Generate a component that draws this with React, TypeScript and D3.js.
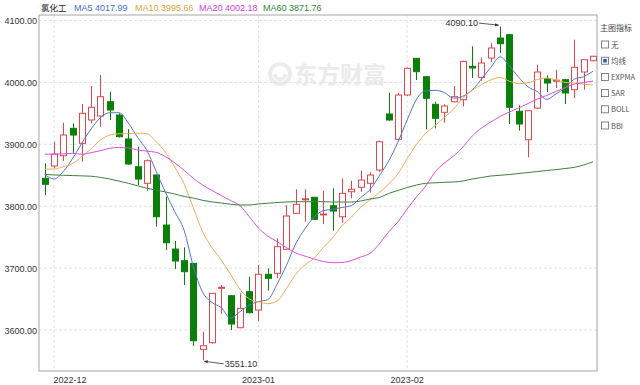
import React from 'react';
import * as d3 from 'd3';

// Trading days, 2022-11-30 .. 2023-03-01
const dates = [
  '2022-11-30',
  '2022-12-01', '2022-12-02', '2022-12-05', '2022-12-06', '2022-12-07', '2022-12-08', '2022-12-09',
  '2022-12-12', '2022-12-13', '2022-12-14', '2022-12-15', '2022-12-16', '2022-12-19', '2022-12-20',
  '2022-12-21', '2022-12-22', '2022-12-23', '2022-12-26', '2022-12-27', '2022-12-28', '2022-12-29',
  '2022-12-30',
  '2023-01-03', '2023-01-04', '2023-01-05', '2023-01-06', '2023-01-09', '2023-01-10', '2023-01-11',
  '2023-01-12', '2023-01-13', '2023-01-16', '2023-01-17', '2023-01-18', '2023-01-19', '2023-01-20',
  '2023-01-30', '2023-01-31',
  '2023-02-01', '2023-02-02', '2023-02-03', '2023-02-06', '2023-02-07', '2023-02-08', '2023-02-09',
  '2023-02-10', '2023-02-13', '2023-02-14', '2023-02-15', '2023-02-16', '2023-02-17', '2023-02-20',
  '2023-02-21', '2023-02-22', '2023-02-23', '2023-02-24', '2023-02-27', '2023-02-28',
  '2023-03-01',
];

const opens = [
  3845.1, 3865.0, 3881.6, 3925.8, 3901.6, 3939.3, 3945.7, 3968.8, 3947.3, 3908.6,
  3863.8, 3837.0, 3850.4, 3769.6, 3730.8, 3712.0, 3707.7, 3568.8, 3579.5, 3668.3,
  3655.4, 3603.7, 3661.9, 3632.3, 3690.0, 3691.6, 3730.4, 3788.5, 3811.1, 3814.4,
  3786.5, 3800.8, 3783.0, 3823.4, 3830.5, 3837.0, 3858.5, 3949.0, 3908.1, 3979.6,
  4038.9, 4009.2, 3964.6, 3951.7, 3968.8, 3972.0, 4026.0, 4008.2, 4039.4, 4071.7,
  4077.1, 3953.3, 3907.4, 3958.6, 4006.0, 4002.7, 4004.4, 3988.2, 4016.8, 4035.1,
];
const highs = [
  3869.3, 3904.2, 3934.9, 3933.9, 3965.1, 3994.2, 4012.0, 3985.0, 3950.0, 3924.7,
  3896.1, 3875.8, 3851.0, 3815.3, 3743.8, 3733.6, 3708.0, 3597.3, 3660.0, 3672.7,
  3656.0, 3659.3, 3686.1, 3705.0, 3699.7, 3748.1, 3802.0, 3827.3, 3827.3, 3815.0,
  3825.0, 3828.9, 3845.0, 3841.2, 3857.4, 3855.0, 3906.0, 3983.4, 3983.0, 4024.0,
  4039.0, 4010.0, 3968.8, 3964.6, 3994.2, 4035.0, 4058.3, 4040.5, 4063.7, 4090.1,
  4078.0, 3963.0, 3955.0, 4028.6, 4011.5, 4020.5, 4005.0, 4069.0, 4037.0, 4043.0,
];
const lows = [
  3818.0, 3861.2, 3873.0, 3885.5, 3871.9, 3933.9, 3928.4, 3939.3, 3911.0, 3867.0,
  3834.3, 3825.0, 3766.9, 3729.2, 3698.5, 3672.7, 3574.1, 3551.1, 3578.0, 3625.9,
  3600.0, 3603.0, 3627.0, 3614.5, 3663.5, 3683.5, 3729.2, 3788.0, 3775.0, 3778.0,
  3771.0, 3760.4, 3773.3, 3812.8, 3823.4, 3821.8, 3855.0, 3938.0, 3905.8, 3978.0,
  4003.9, 3924.2, 3925.8, 3934.9, 3968.0, 3961.4, 4007.1, 4002.7, 4033.0, 4047.5,
  3932.8, 3922.0, 3879.0, 3957.0, 3984.5, 3991.0, 3965.1, 3974.8, 3988.2, 4034.0,
];
const closes = [
  3835.4, 3884.3, 3915.0, 3915.0, 3950.1, 3959.8, 3976.9, 3955.4, 3912.3, 3868.2,
  3843.9, 3873.5, 3783.0, 3741.0, 3711.5, 3694.2, 3582.7, 3574.6, 3659.3, 3669.0,
  3609.7, 3635.0, 3628.0, 3690.0, 3683.5, 3734.6, 3784.2, 3803.1, 3812.0, 3778.8,
  3787.5, 3792.2, 3820.8, 3827.3, 3842.3, 3850.4, 3904.2, 3939.3, 3979.6, 4022.8,
  4017.3, 3974.3, 3942.0, 3961.9, 3976.9, 4034.0, 4023.3, 4031.3, 4055.6, 4062.5,
  3959.8, 3932.8, 3954.3, 4016.8, 3999.0, 4003.5, 3982.9, 4024.4, 4036.7, 4042.2,
];

const ma5 = [
  3851, 3844, 3856, 3877, 3902, 3925, 3943, 3951, 3951, 3934.5,
  3911, 3890, 3856, 3822, 3791, 3761, 3702.5, 3661, 3644.5, 3636,
  3619, 3629.5, 3640, 3646, 3649, 3674, 3704, 3739, 3763.5, 3782.5,
  3793, 3795, 3798, 3801, 3814, 3826.6, 3849, 3872.7, 3903.2, 3939.3,
  3972.6, 3986.7, 3987.2, 3983.7, 3974.5, 3977.8, 3987.6, 4005.5, 4024.2, 4041.3,
  4026.5, 4008.4, 3993, 3985.2, 3972.5, 3981.3, 3991.3, 4005.3, 4009.3, 4017.99,
];
const ma10 = [
  3860, 3860, 3864, 3869, 3880, 3893, 3907, 3915, 3917, 3917.2,
  3918, 3917, 3904, 3887, 3863, 3836, 3797, 3758.5, 3733, 3713,
  3690, 3666, 3650.5, 3645.4, 3642.6, 3646.7, 3666.8, 3689.7, 3705, 3716,
  3733.7, 3749.4, 3768.7, 3782.4, 3798.3, 3810, 3822, 3835.5, 3852.3, 3876.7,
  3899.6, 3918, 3930, 3943.5, 3957, 3975, 3987, 3996.4, 4004, 4008,
  4002, 3998, 3999.3, 4004.7, 4007, 4004, 4000, 3999.2, 3997.3, 3995.66,
];
const ma20 = [
  3884, 3884, 3884.5, 3885.5, 3884, 3886.5, 3889.7, 3893.5, 3895, 3894,
  3890.8, 3889, 3887, 3880, 3870, 3858, 3845, 3834.2, 3825.4, 3817.3,
  3809.2, 3801.1, 3783.4, 3764.8, 3751.8, 3743, 3733.3, 3724.4, 3719.5, 3714.7,
  3710.7, 3708.7, 3709, 3712.3, 3718, 3723.9, 3738.9, 3758.3, 3774.5, 3795.5,
  3814.9, 3832.6, 3855.3, 3869.8, 3881.1, 3895.6, 3913.4, 3926.3, 3936, 3944.9,
  3952.2, 3958.6, 3965.9, 3973.2, 3978.8, 3985.3, 3991.8, 3997.4, 3999.8, 4002.18,
];
const ma60 = [
  3851.5, 3850.5, 3850, 3849.5, 3849, 3848.5, 3846.5, 3844, 3840.5, 3837,
  3833, 3829, 3826, 3823, 3819.7, 3815.7, 3813.2, 3809.5, 3807, 3805.2,
  3803.2, 3802, 3802, 3803.6, 3804.8, 3806, 3806.8, 3807.3, 3807.3, 3807.3,
  3807.3, 3806.8, 3806.8, 3806.8, 3808.4, 3811.6, 3814, 3820.5, 3825.4, 3830.2,
  3834.2, 3837, 3837.8, 3838.6, 3839.1, 3840.7, 3843.9, 3846.4, 3848.8, 3850,
  3851.2, 3852.8, 3854.4, 3856, 3857.7, 3859.1, 3860.9, 3862.8, 3866.6, 3871.76,
];

const yTicks = [3600, 3700, 3800, 3900, 4000, 4100];
const stockName = '氯化工';
const panelTitle = '主图指标';
const indicatorOptions = ['无', '均线', 'EXPMA', 'SAR', 'BOLL', 'BBI'];
const checkedOption = '均线';

const RED = '#e0464c';
const GREEN = '#0a800a';

const maSeries = [
  { name: 'MA5', values: ma5, line: '#5276cc', text: '#3d6fd8', tx: 74 },
  { name: 'MA10', values: ma10, line: '#eaae55', text: '#e2a236', tx: 135 },
  { name: 'MA20', values: ma20, line: '#e04ee0', text: '#d640d6', tx: 199 },
  { name: 'MA60', values: ma60, line: '#3f8040', text: '#2f8a30', tx: 263 },
];

export default function App() {
  const W = 640;
  const H = 385;
  const plot = { left: 39, right: 597, top: 15, bottom: 371 };
  const font = "'Liberation Sans', Arial, sans-serif";
  const cjk = "'Noto Sans CJK SC', 'Liberation Sans', sans-serif";

  const x = d3.scaleLinear().domain([0, dates.length - 1]).range([44.7, 593]);
  const y = d3.scaleLinear().domain([3533.8, 4108.9]).range([plot.bottom, plot.top]);
  const bodyW = 6;

  const line = d3
    .line<number>()
    .x((_, i) => x(i))
    .y((v) => y(v))
    .curve(d3.curveMonotoneX);

  // month boundaries for the time axis
  const monthTicks = dates
    .map((d, i) => ({ i, label: d.slice(0, 7) }))
    .filter((t) => t.i > 0 && t.label !== dates[t.i - 1].slice(0, 7))
    .filter((t) => x(t.i) < plot.right - 30);

  const hiIdx = d3.maxIndex(highs);
  const loIdx = d3.minIndex(lows);
  const hx = x(hiIdx);
  const hy = y(highs[hiIdx]);
  const lx = x(loIdx);
  const ly = y(lows[loIdx]);

  return (
    <svg
      width={W}
      height={H}
      style={{ position: 'absolute', left: 0, top: 0, background: '#fff' }}
      fontFamily={font}
    >
      <defs>
        <marker id="arrow" viewBox="0 0 10 10" refX="9" refY="5" markerWidth="5" markerHeight="5" orient="auto">
          <path d="M0,1 L10,5 L0,9 z" fill="#333" />
        </marker>
      </defs>
      <rect x={0} y={0} width={W} height={H} fill="#fff" />

      {/* watermark */}
      <g opacity={1}>
        <path
          d="M270,74 a10,10 0 1,1 20,0 a10,10 0 1,1 -20,0 M275,74 a5,5 0 1,0 10,0"
          fill="none"
          stroke="#ececec"
          strokeWidth={4}
        />
        <text x={294} y={83} fontSize={23} fontWeight="bold" fill="#ebebeb" fontFamily={cjk}>
          东方财富
        </text>
      </g>

      {/* grid */}
      {yTicks.map((t) => (
        <line
          key={'gy' + t}
          x1={plot.left}
          x2={plot.right}
          y1={y(t)}
          y2={y(t)}
          stroke="#e2e2e2"
          strokeDasharray="3,2"
        />
      ))}
      {monthTicks.map((t) => (
        <line
          key={'gx' + t.i}
          x1={x(t.i)}
          x2={x(t.i)}
          y1={plot.top}
          y2={plot.bottom}
          stroke="#e2e2e2"
          strokeDasharray="3,2"
        />
      ))}

      {/* frame */}
      <rect
        x={plot.left}
        y={plot.top}
        width={plot.right - plot.left}
        height={plot.bottom - plot.top}
        fill="none"
        stroke="#a6a6a6"
      />

      {/* y axis labels */}
      {yTicks.map((t) => (
        <text key={'yl' + t} x={37} y={y(t) + 3.5} fontSize={9} textAnchor="end" fill="#333">
          {t.toFixed(2)}
        </text>
      ))}

      {/* x axis labels */}
      {monthTicks.map((t) => (
        <text
          key={'xl' + t.i}
          x={Math.max(x(t.i), plot.left + 31)}
          y={383}
          fontSize={9}
          textAnchor="middle"
          fill="#333"
        >
          {t.label}
        </text>
      ))}

      {/* candlesticks */}
      {dates.map((d, i) => {
        const o = opens[i];
        const c = closes[i];
        const up = c >= o;
        const col = up ? RED : GREEN;
        const cx = Math.round(x(i)) + 0.5;
        const top = y(Math.max(o, c));
        const bot = y(Math.min(o, c));
        const h = Math.max(1, bot - top);
        return (
          <g key={d}>
            <line x1={cx} x2={cx} y1={y(highs[i])} y2={y(lows[i])} stroke={col} strokeWidth={1} />
            <rect
              x={cx - bodyW / 2}
              y={top}
              width={bodyW}
              height={h}
              fill={up ? '#fff' : col}
              stroke={col}
              strokeWidth={1}
            />
          </g>
        );
      })}

      {/* moving averages */}
      {maSeries.map((s) => (
        <path key={s.name} d={line(s.values) || ''} fill="none" stroke={s.line} strokeWidth={1} />
      ))}

      {/* extreme annotations */}
      <line x1={hx - 21} y1={hy - 3.5} x2={hx - 1.5} y2={hy - 1.5} stroke="#333" strokeWidth={0.8} markerEnd="url(#arrow)" />
      <text x={hx - 22} y={hy - 0.5} fontSize={9} textAnchor="end" fill="#333">
        {highs[hiIdx].toFixed(2)}
      </text>
      <line x1={lx + 21} y1={ly + 3.5} x2={lx + 1.5} y2={ly + 1} stroke="#333" strokeWidth={0.8} markerEnd="url(#arrow)" />
      <text x={lx + 22} y={ly + 7} fontSize={9} textAnchor="start" fill="#333">
        {lows[loIdx].toFixed(2)}
      </text>

      {/* title row */}
      <text x={41} y={11} fontSize={8.5} fill="#222" fontFamily={cjk}>
        {stockName}
      </text>
      {maSeries.map((s) => (
        <text key={'t' + s.name} x={s.tx} y={11} fontSize={9} fill={s.text}>
          {`${s.name} ${s.values[s.values.length - 1].toFixed(2)}`}
        </text>
      ))}

      {/* indicator panel */}
      <text x={600} y={31} fontSize={8} fill="#444" fontFamily={cjk}>
        {panelTitle}
      </text>
      {indicatorOptions.map((name, k) => {
        const ry = 44.5 + k * 16.2;
        const checked = name === checkedOption;
        return (
          <g key={name}>
            <rect x={601.5} y={ry - 3.5} width={7} height={7} fill="#fff" stroke="#666" strokeWidth={0.8} />
            {checked && <rect x={603.2} y={ry - 1.8} width={3.6} height={3.6} fill="#2b5cb8" />}
            <text x={611} y={ry + 3} fontSize={7.5} fill="#555" fontFamily={cjk}>
              {name}
            </text>
          </g>
        );
      })}
    </svg>
  );
}
